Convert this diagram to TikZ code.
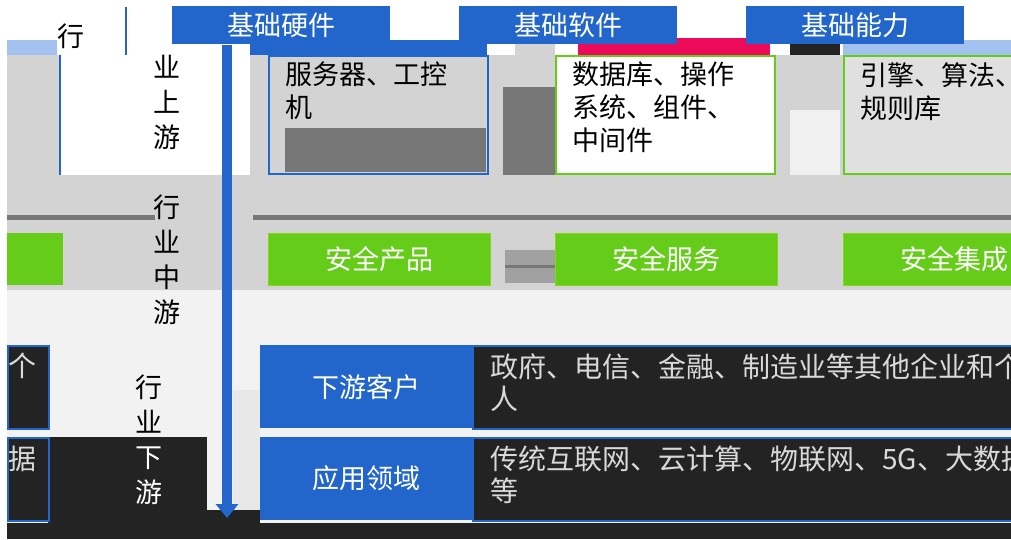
\documentclass[tikz,border=0pt]{standalone}
\usepackage{fontspec}
\newfontfamily\cjk{Noto Sans CJK SC}
\usetikzlibrary{arrows.meta}
\definecolor{hblue}{HTML}{2266CC}
\definecolor{hgreen}{HTML}{66CC1A}
\definecolor{band}{HTML}{D3D3D3}
\definecolor{pale}{HTML}{F2F2F2}
\definecolor{darkbg}{HTML}{232323}
\definecolor{lblue}{HTML}{A3C1EE}
\definecolor{pinkbar}{HTML}{EE0A5A}
\definecolor{midgray}{HTML}{777777}
\begin{document}
\begin{tikzpicture}[x=1pt,y=-1pt,
  every node/.style={font=\cjk\fontsize{27}{33}\selectfont, inner sep=0pt},
  header/.style={fill=hblue, text=white, minimum width=218pt, minimum height=38pt, anchor=north west},
  cbox/.style={line width=1.5pt, minimum width=219pt, minimum height=118pt, anchor=north west},
  ctext/.style={anchor=north west, align=left, text=black},
  gbox/.style={fill=hgreen, draw=hgreen!80!yellow, text=white, minimum width=222pt, minimum height=52pt, anchor=north west},
  bbox/.style={fill=hblue, text=white, minimum width=212pt, minimum height=83pt, anchor=north west},
  tbox/.style={fill=darkbg, draw=hblue, line width=1.5pt, minimum width=598pt, minimum height=83pt, anchor=north west},
  ttext/.style={anchor=north west, align=left, text=white!85!black, font=\cjk\fontsize{28}{32}\selectfont},
  vlabel/.style={align=center, anchor=north, font=\cjk\fontsize{27}{35}\selectfont},
  sep/.style={draw=midgray, line width=5pt}]
\useasboundingbox (0,0) rectangle (1011,539);
\fill[white] (0,0) rectangle (1011,539);
% background bands
\fill[band] (7,55) rectangle (60,175);
\fill[band] (250,55) rectangle (1011,175);
\fill[band] (7,175) rectangle (1011,290);
\fill[pale] (7,290) rectangle (1011,523);
\fill[darkbg] (7,523) rectangle (1011,539);
\fill[darkbg] (48,437) rectangle (207,523);
\fill[darkbg] (207,510) rectangle (260,523);
\fill[white!91!black] (233,390) rectangle (260,510);
\draw[sep] (7,217) -- (155,217);
\draw[sep] (253,217) -- (1011,217);
% coloured strips above the upper boxes
\fill[lblue] (7,40) rectangle (57,55);
\fill[hblue] (250,40) rectangle (487,55);
\fill[band] (515,38) rectangle (555,55);
\fill[pinkbar] (578,38) rectangle (770,55);
\fill[darkbg] (790,40) rectangle (840,55);
\fill[lblue] (843,40) rectangle (1011,55);
\fill[midgray] (503,87) rectangle (555,175);
\fill[white!94!black] (790,110) rectangle (840,175);
\draw[hblue, line width=1.5pt] (126,7) -- (126,55);
\draw[hblue, line width=1.5pt] (60,55) -- (60,175);
% headers
\node[header] (hw) at (172,6) {基础硬件};
\node[header] (sw) at (459,6) {基础软件};
\node[header] (ab) at (746,6) {基础能力};
% upper content boxes
\node[cbox, draw=hblue, fill=band] (c1) at (268,55) {};
\fill[midgray] (285,128) rectangle (486,172);
\node[ctext] (t1) at (285,62) {服务器、工控\\机};
\node[cbox, draw=hgreen, fill=white] (c2) at (555,55) {};
\node[ctext] (t2) at (572,62) {数据库、操作\\系统、组件、\\中间件};
\node[cbox, draw=hgreen, fill=white!88!black, minimum width=228pt] (c3) at (843,55) {};
\node[ctext] (t3) at (860,62) {引擎、算法、\\规则库};
% middle row
\fill[white!63!black] (505,250) rectangle (555,283);
\draw[midgray, line width=3pt] (505,266) -- (555,266);
\fill[hgreen] (7,233) rectangle (63,285);
\node[gbox] (g1) at (268,233) {安全产品};
\node[gbox] (g2) at (555,233) {安全服务};
\node[gbox] (g3) at (843,233) {安全集成};
% lower row
\node[bbox] (b1) at (260,345) {下游客户};
\node[bbox] (b2) at (260,437) {应用领域};
\node[tbox] (d1) at (472,345) {};
\node[tbox] (d2) at (472,437) {};
\node[ttext] (e1) at (490,353) {政府、电信、金融、制造业等其他企业和个\\人};
\node[ttext] (e2) at (490,446) {传统互联网、云计算、物联网、5G、大数据\\等};
\node[tbox, minimum width=41pt] (w1) at (7,345) {};
\node[tbox, minimum width=41pt] (w2) at (7,437) {};
\node[ttext] (x1) at (8,353) {个};
\node[ttext] (x2) at (8,446) {据};
% row labels
\node[font=\cjk\fontsize{27}{35}\selectfont] (lu0) at (71,36) {行};
\node[vlabel] (lu) at (167,55) {业\\上\\游};
\node[vlabel] (lm) at (167,195) {行\\业\\中\\游};
\node[vlabel] (ld) at (149,375) {行\\业\\{\color{white}下}\\{\color{white}游}};
% arrow
\coordinate (atop) at (227,45);
\coordinate (abot) at (227,518);
\draw[hblue, line width=10pt, -{Triangle[width=22pt,length=14pt]}] (atop) -- (abot);
\end{tikzpicture}
\end{document}
